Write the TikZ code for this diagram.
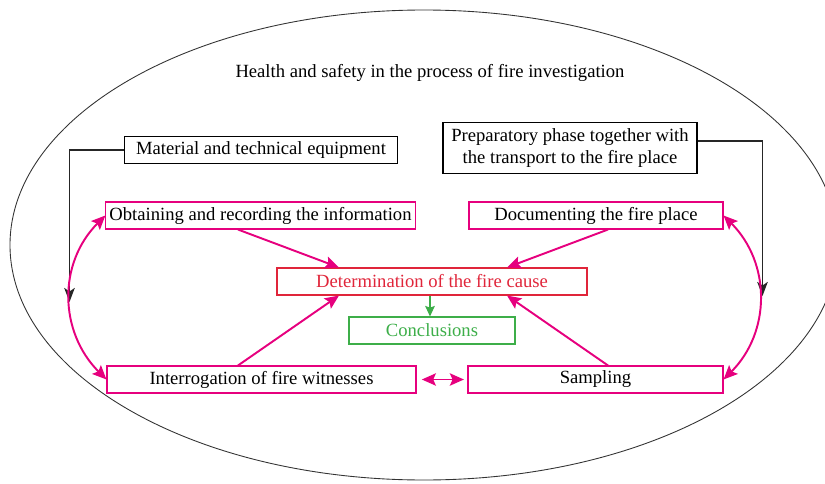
\documentclass[tikz,border=0pt]{standalone}
\usepackage{fontspec}
\setmainfont{Liberation Serif}
\usetikzlibrary{arrows.meta}
\definecolor{firemagenta}{HTML}{E6007E}
\definecolor{firered}{HTML}{E0253A}
\definecolor{firegreen}{HTML}{3DAE49}

\begin{document}
\begin{tikzpicture}[font=\fontsize{10.6}{12.5}\selectfont,
  box/.style={draw, line width=0.6pt, minimum height=0.54cm, inner sep=2pt},
  pinkbox/.style={box, draw=firemagenta},
  pinkarrow/.style={firemagenta, line width=1.1pt, -{Stealth[length=8pt,width=7pt,inset=1.5pt]}},
  pinkboth/.style={pinkarrow, {Stealth[length=8pt,width=7pt,inset=1.5pt]}-{Stealth[length=8pt,width=7pt,inset=1.5pt]}},
  blackarrow/.style={black!85, line width=0.8pt, -{Stealth[length=8pt,width=6pt,inset=2pt]}}]
\useasboundingbox (0,0) rectangle (16.5,9.66);

% outer frame
\begin{scope}
\clip (0,0) rectangle (16.5,9.66);
\draw[line width=0.5pt, black!80] (8.48,4.76) ellipse (8.28 and 4.70);
\end{scope}

\node (title) at (8.6,8.2) {Health and safety in the process of fire investigation};

\node[box, minimum width=5.46cm] (equip) at (5.22,6.66) {Material and technical equipment};
\node[box, minimum width=5.08cm, minimum height=1.02cm, align=center] (prep) at (11.4,6.70) {Preparatory phase together with\\ the transport to the fire place};

\node[pinkbox, minimum width=6.18cm] (obtain) at (5.21,5.35) {Obtaining and recording the information};
\node[pinkbox, minimum width=5.08cm] (document) at (11.92,5.35) {Documenting the fire place};

\node[box, draw=firered, text=firered, minimum width=6.2cm] (cause) at (8.64,4.03) {Determination of the fire cause};
\node[box, draw=firegreen, text=firegreen, minimum width=3.32cm] (concl) at (8.64,3.05) {Conclusions};

\node[pinkbox, minimum width=6.18cm] (witness) at (5.23,2.07) {Interrogation of fire witnesses};
\node[pinkbox, minimum width=5.1cm] (sampling) at (11.91,2.07) {Sampling};

% black feeds
\coordinate (equipEnd) at (1.39,3.62);
\coordinate (prepEnd) at (15.25,3.74);
\draw[blackarrow] (equip.west) -| (equipEnd);
\draw[blackarrow] ([yshift=0.14cm]prep.east) -| (prepEnd);

% side links
\draw[pinkboth] (obtain.west) to[out=225, in=135, looseness=1.05] (witness.west);
\draw[pinkboth] (document.east) to[out=-45, in=45, looseness=1.05] (sampling.east);
\draw[pinkboth, shorten <=3pt, shorten >=2pt] (witness.east) -- (sampling.west);

% into the cause
\draw[pinkarrow] ([xshift=-0.45cm]obtain.south) -- ([xshift=-1.86cm]cause.north);
\draw[pinkarrow] ([xshift=0.24cm]document.south) -- ([xshift=1.5cm]cause.north);
\draw[pinkarrow] ([xshift=-0.47cm]witness.north) -- ([xshift=-1.86cm]cause.south);
\draw[pinkarrow] ([xshift=0.25cm]sampling.north) -- ([xshift=1.5cm]cause.south);

\draw[firegreen, line width=0.7pt, -{Stealth[length=6pt,width=5.5pt,inset=1pt]}] ([xshift=-0.04cm]cause.south) -- ([xshift=-0.04cm]concl.north);
\end{tikzpicture}
\end{document}
